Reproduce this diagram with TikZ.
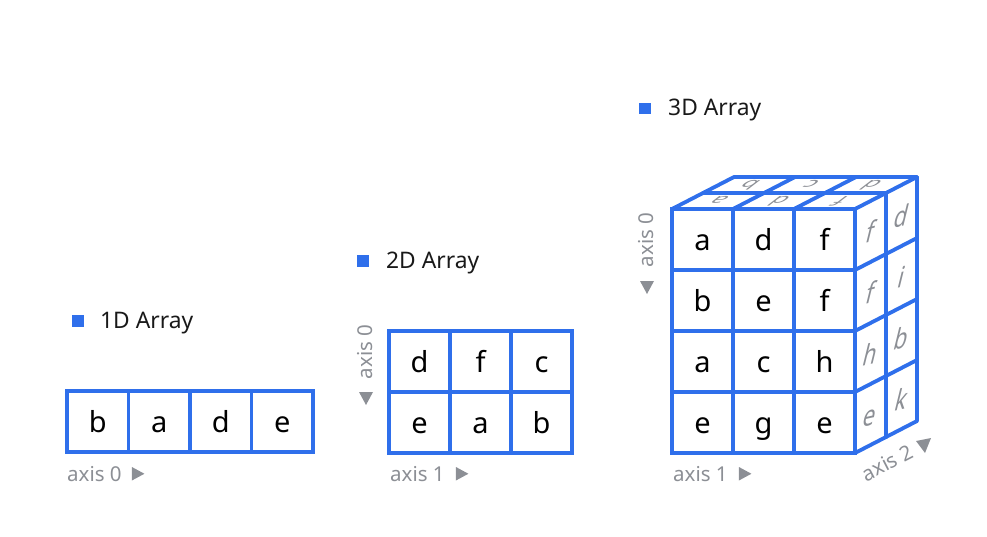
\documentclass[tikz,border=0pt]{standalone}
\usepackage{fontspec}
\setmainfont{Noto Sans}
\definecolor{blu}{HTML}{2F6FEB}
\definecolor{gry}{HTML}{8C8F95}
\begin{document}
\begin{tikzpicture}[x=1pt,y=-1pt,
  gridline/.style={draw=blu, line width=3.8pt, line join=round, line cap=round},
  cellbox/.style={draw=blu, line width=3.8pt, minimum width=61pt, minimum height=61pt, inner sep=0pt,
    font=\fontsize{29}{29}\selectfont, text height=21.5pt, text depth=0pt, text=black},
  facetxt/.style={text=gry, font=\fontsize{30}{30}\selectfont, inner sep=0pt, text height=22pt, text depth=0pt},
  axislbl/.style={text=gry, font=\fontsize{20.5}{20.5}\selectfont, inner sep=0pt},
  titletxt/.style={font=\fontsize{22.8}{22.8}\selectfont, inner sep=0pt, anchor=base west, text=black!90},
  marker/.style={fill=blu, minimum width=12pt, minimum height=11.5pt, inner sep=0pt}
]
\useasboundingbox (0,0) rectangle (987,536);

% ---------- 1D ----------
\node[marker] (m1) at (78,321) {};
\node[titletxt] (t1) at (100,328) {1D Array};
\foreach \t [count=\i from 0] in {b,a,d,e}{
  \node[cellbox, minimum width=61.5pt] (a1c\i) at ({97.75+61.5*\i},421.5) {\t};
}
\node[axislbl, anchor=base west] (ax10) at (67,481) {axis 0};
\fill[gry] ([xshift=10pt]ax10.base east) ++(0,-0.5) -- ++(0,-13.5) -- ++(12.5,6.75) -- cycle;

% ---------- 2D ----------
\node[marker] (m2) at (363,261) {};
\node[titletxt] (t2) at (386,268) {2D Array};
\foreach \r/\row in {0/{d,f,c},1/{e,a,b}}{
  \foreach \t [count=\i from 0] in \row{
    \node[cellbox] (a2c\r\i) at ({419.5+61*\i},{361.5+61*\r}) {\t};
  }
}
\node[axislbl, anchor=base west] (ax21) at (390,481) {axis 1};
\fill[gry] ([xshift=11pt]ax21.base east) ++(0,-0.5) -- ++(0,-13.5) -- ++(12.5,6.75) -- cycle;
\node[axislbl, rotate=90] (ax20) at (365.5,352) {axis 0};
\fill[gry] (359,392) -- (373,392) -- (366,405) -- cycle;

% ---------- 3D ----------
\node[marker] (m3) at (645,108.5) {};
\node[titletxt] (t3) at (668,115) {3D Array};
\foreach \r/\row in {0/{a,d,f},1/{b,e,f},2/{a,c,h},3/{e,g,e}}{
  \foreach \t [count=\i from 0] in \row{
    \node[cellbox] (a3c\r\i) at ({702.5+61*\i},{239.5+61*\r}) {\t};
  }
}
% top face letters (seen from above)
\foreach \t [count=\i from 0] in {a,d,f}{
  \node[facetxt, cm={-0.8,0,-0.55,-0.42,({718+61*\i},201)}] (tf\i) at (0,0) {\t};
}
\foreach \t [count=\i from 0] in {b,c,d}{
  \node[facetxt, cm={-0.8,0,-0.55,-0.42,({749+61*\i},185)}] (tb\i) at (0,0) {\t};
}
% side face letters
\foreach \t [count=\j from 0] in {f,f,h,e}{
  \node[facetxt, cm={0.72,0.16,0.24,0.98,(870.5,{232+61*\j})}] (sf\j) at (0,0) {\t};
}
\foreach \t [count=\j from 0] in {d,i,b,k}{
  \node[facetxt, cm={0.72,0.16,0.24,0.98,(901.5,{216+61*\j})}] (sb\j) at (0,0) {\t};
}
% top face
\draw[gridline] (672,209) -- (734,177) -- (917,177) -- (855,209);
\draw[gridline] (733,209) -- (795,177);
\draw[gridline] (794,209) -- (856,177);
\draw[gridline] (703,193) -- (886,193);
% side face
\draw[gridline] (917,177) -- (917,421) -- (855,453);
\draw[gridline] (886,193) -- (886,437);
\foreach \y in {270,331,392}{
  \draw[gridline] (855,\y) -- (917,\y-32);
}
% axes
\node[axislbl, anchor=base west] (ax31) at (673,481) {axis 1};
\fill[gry] ([xshift=11pt]ax31.base east) ++(0,-0.5) -- ++(0,-13.5) -- ++(12.5,6.75) -- cycle;
\node[axislbl, rotate=90] (ax30) at (646,240) {axis 0};
\fill[gry] (640,281) -- (654,281) -- (647,294) -- cycle;
\node[axislbl, rotate=27.3] (ax32) at (887,463) {axis 2};
\fill[gry] (916,441) -- (931,438) -- (925,453) -- cycle;
\end{tikzpicture}
\end{document}
